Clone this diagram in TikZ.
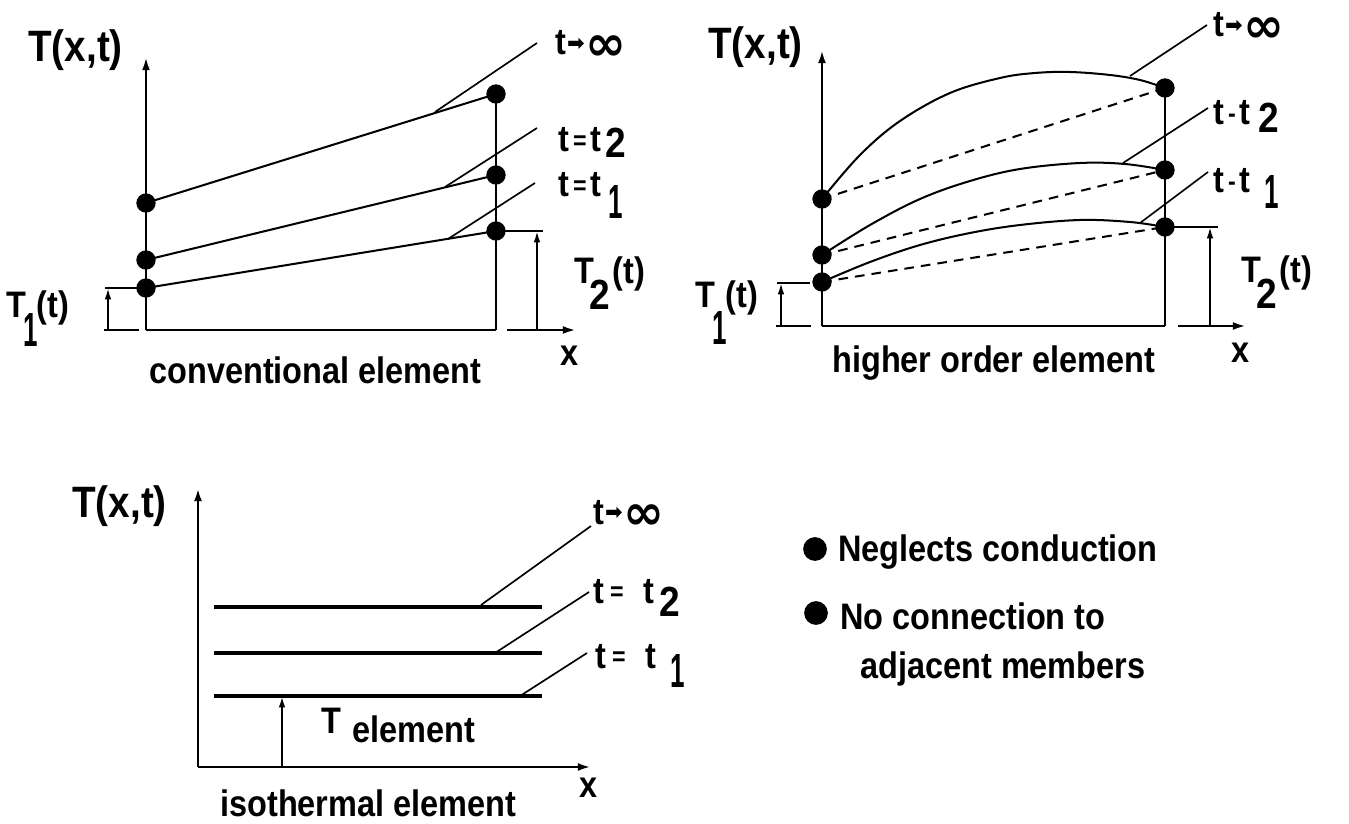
\documentclass[tikz,border=0pt]{standalone}
\usepackage{fontspec}
\setmainfont{Liberation Sans}[FakeStretch=0.88]
\newfontfamily\dejavu{DejaVu Sans}
\usetikzlibrary{arrows.meta}
\newdimen\pxu \pxu=0.5669pt
\newcommand{\lowr}[2]{\raisebox{-#1\pxu}{#2}}
\newcommand{\seq}{{\fontsize{15pt}{15pt}\selectfont\raisebox{1.5pt}{=}}}
\newcommand{\smin}{{\fontsize{15pt}{15pt}\selectfont\raisebox{1.5pt}{-}}}
\newcommand{\bigone}{\scalebox{0.8}[1.3]{1}}
\newcommand{\bigtwo}{{\fontsize{24pt}{24pt}\selectfont 2}}
\newcommand{\tinf}{t\kern1\pxu{\dejavu\fontsize{12pt}{12pt}\selectfont\raisebox{2.5pt}{➡}}\kern1\pxu{\dejavu\fontsize{28pt}{28pt}\selectfont\raisebox{-3pt}{∞}}}
\begin{document}
\begin{tikzpicture}[x=0.02cm, y=-0.02cm,
  ax/.style={line width=1.4pt, -{Latex[length=7.5pt,width=4.5pt]}},
  arr/.style={line width=1.1pt, -{Latex[length=6.5pt,width=3.8pt]}},
  ln/.style={line width=1.15pt},
  thk/.style={line width=1.4pt},
  hz/.style={line width=1.8pt},
  dsh/.style={line width=1.15pt, dash pattern=on 5.5pt off 4pt},
  ldr/.style={line width=0.95pt},
  dot/.style={circle, fill, inner sep=0pt, minimum size=11pt},
  bul/.style={circle, fill, inner sep=0pt, minimum size=13.5pt},
  lbl/.style={inner sep=0pt, anchor=base west, font=\fontsize{21pt}{25pt}\selectfont\bfseries},
  big/.style={lbl, font=\fontsize{25pt}{28pt}\selectfont\bfseries}
]
\useasboundingbox (0,0) rectangle (1349,824);

% ================= Panel 1: conventional element =================
\node[dot] (p1l3) at (146,203) {};
\node[dot] (p1l2) at (146,260) {};
\node[dot] (p1l1) at (146,288) {};
\node[dot] (p1r3) at (496,94) {};
\node[dot] (p1r2) at (496,175) {};
\node[dot] (p1r1) at (496,231) {};
\coordinate (p1o) at (146,330);
\coordinate (p1top) at (146,57);
\coordinate (p1c) at (496,330);
\coordinate (p1xa) at (507,330);
\coordinate (p1xb) at (576,330);
\draw[ax] (p1o) -- (p1top);
\draw[thk] (p1c) -- (p1r3.center);
\draw[thk] (p1o) -- (p1c);
\draw[ax] (p1xa) -- (p1xb);
\draw[ln] (p1l3.center) -- (p1r3.center);
\draw[ln] (p1l2.center) -- (p1r2.center);
\draw[ln] (p1l1.center) -- (p1r1.center);
% leaders
\coordinate (p1ia) at (537,43);  \coordinate (p1ib) at (435,112);
\coordinate (p1ua) at (537,128); \coordinate (p1ub) at (445,187);
\coordinate (p1va) at (535,183); \coordinate (p1vb) at (448,239);
\draw[ldr] (p1ia) -- (p1ib);
\draw[ldr] (p1ua) -- (p1ub);
\draw[ldr] (p1va) -- (p1vb);
% T1 marker
\coordinate (p1t1a) at (105,288); \coordinate (p1t1b) at (139,288);
\coordinate (p1t1c) at (104,330); \coordinate (p1t1d) at (139,330);
\coordinate (p1t1e) at (108,330); \coordinate (p1t1f) at (108,288);
\draw[ln] (p1t1a) -- (p1t1b);
\draw[ln] (p1t1c) -- (p1t1d);
\draw[arr] (p1t1e) -- (p1t1f);
% T2 marker
\coordinate (p1t2a) at (543,231);
\coordinate (p1t2b) at (537,330); \coordinate (p1t2c) at (537,231);
\draw[ln] (p1r1.center) -- (p1t2a);
\draw[arr] (p1t2b) -- (p1t2c);
% labels
\node[big] (p1ax) at (28,62) {T(x,t)};
\node[lbl] (p1inf) at (555,55) {\tinf};
\node[lbl] (p1tt2) at (558,152) {t\kern4\pxu\seq\kern4\pxu t\kern4\pxu\lowr{6}{\bigtwo}};
\node[lbl] (p1tt1) at (558,197) {t\kern4\pxu\seq\kern4\pxu t\kern7\pxu\lowr{22}{\bigone}};
\node[lbl] (p1T1) at (6,317) {T\kern-3\pxu\lowr{30}{\bigone}\kern-1\pxu(t)};
\node[lbl] (p1T2) at (574,283) {T\kern-5\pxu\lowr{27}{\bigtwo}\kern3\pxu(t)};
\node[lbl] (p1x) at (560,365) {x};
\node[lbl] (p1cap) at (149,383) {conventional element};

% ================= Panel 2: higher order element =================
\node[dot] (p2l3) at (822,199) {};
\node[dot] (p2l2) at (822,255) {};
\node[dot] (p2l1) at (822,282) {};
\node[dot] (p2r3) at (1165,88) {};
\node[dot] (p2r2) at (1165,170) {};
\node[dot] (p2r1) at (1165,227) {};
\coordinate (p2o) at (822,326);
\coordinate (p2top) at (822,50);
\coordinate (p2c) at (1165,326);
\coordinate (p2xa) at (1178,326);
\coordinate (p2xb) at (1246,326);
\draw[ax] (p2o) -- (p2top);
\draw[thk] (p2c) -- (p2r3.center);
\draw[thk] (p2o) -- (p2c);
\draw[ax] (p2xa) -- (p2xb);
\draw[dsh] (p2l3.center) -- (p2r3.center);
\draw[dsh] (p2l2.center) -- (p2r2.center);
\draw[dsh] (p2l1.center) -- (p2r1.center);
\draw[ln] plot[smooth, tension=0.6] coordinates {(822,199) (860,155) (900,121) (950,93) (1000,78) (1035,73) (1070,72) (1110,75) (1140,80) (1165,88)};
\draw[ln] plot[smooth, tension=0.6] coordinates {(822,255) (870,225) (920,199) (970,181) (1020,169) (1080,163) (1125,164) (1165,170)};
\draw[ln] plot[smooth, tension=0.6] coordinates {(822,282) (870,262) (920,245) (970,233) (1020,225) (1080,220) (1130,222) (1165,227)};
% leaders
\coordinate (p2ia) at (1207,25);  \coordinate (p2ib) at (1130,76);
\coordinate (p2ua) at (1208,108); \coordinate (p2ub) at (1123,163);
\coordinate (p2va) at (1208,172); \coordinate (p2vb) at (1140,223);
\draw[ldr] (p2ia) -- (p2ib);
\draw[ldr] (p2ua) -- (p2ub);
\draw[ldr] (p2va) -- (p2vb);
% T1 marker
\coordinate (p2t1a) at (777,283); \coordinate (p2t1b) at (810,283);
\coordinate (p2t1c) at (776,326); \coordinate (p2t1d) at (811,326);
\coordinate (p2t1e) at (781,326); \coordinate (p2t1f) at (781,283);
\draw[ln] (p2t1a) -- (p2t1b);
\draw[ln] (p2t1c) -- (p2t1d);
\draw[arr] (p2t1e) -- (p2t1f);
% T2 marker
\coordinate (p2t2a) at (1218,227);
\coordinate (p2t2b) at (1210,326); \coordinate (p2t2c) at (1210,227);
\draw[ln] (p2r1.center) -- (p2t2a);
\draw[arr] (p2t2b) -- (p2t2c);
% labels
\node[big] (p2ax) at (708,59) {T(x,t)};
\node[lbl] (p2inf) at (1213,37) {\tinf};
\node[lbl] (p2tt2) at (1213,125) {t\kern4\pxu\smin\kern4\pxu t\kern8\pxu\lowr{8}{\bigtwo}};
\node[lbl] (p2tt1) at (1213,193) {t\kern4\pxu\smin\kern4\pxu t\kern14\pxu\lowr{16}{\bigone}};
\node[lbl] (p2T1) at (695,307) {T\kern-3\pxu\lowr{38}{\bigone}\kern-1\pxu(t)};
\node[lbl] (p2T2) at (1241,282) {T\kern-5\pxu\lowr{27}{\bigtwo}\kern3\pxu(t)};
\node[lbl] (p2x) at (1231,362) {x};
\node[lbl] (p2cap) at (832,372) {higher order element};

% ================= Panel 3: isothermal element =================
\coordinate (p3o) at (198,767);
\coordinate (p3top) at (198,488);
\coordinate (p3x) at (591,767);
\draw[ax, line width=1.7pt] (p3o) -- (p3top);
\draw[ax, line width=1.7pt] (p3o) -- (p3x);
\coordinate (p3h3a) at (214,607); \coordinate (p3h3b) at (542,607);
\coordinate (p3h2a) at (214,653); \coordinate (p3h2b) at (542,653);
\coordinate (p3h1a) at (214,696); \coordinate (p3h1b) at (542,696);
\draw[hz] (p3h3a) -- (p3h3b);
\draw[hz] (p3h2a) -- (p3h2b);
\draw[hz] (p3h1a) -- (p3h1b);
\coordinate (p3ea) at (282,767); \coordinate (p3eb) at (282,696);
\draw[arr, line width=1.4pt] (p3ea) -- (p3eb);
\coordinate (p3ia) at (591,526); \coordinate (p3ib) at (481,605);
\coordinate (p3ua) at (589,592); \coordinate (p3ub) at (495,653);
\coordinate (p3va) at (587,653); \coordinate (p3vb) at (520,696);
\draw[ldr] (p3ia) -- (p3ib);
\draw[ldr] (p3ua) -- (p3ub);
\draw[ldr] (p3va) -- (p3vb);
\node[big] (p3ax) at (72,517) {T(x,t)};
\node[lbl] (p3inf) at (593,524) {\tinf};
\node[lbl] (p3tt2) at (593,603) {t\kern6\pxu\seq\kern20\pxu t\kern5\pxu\lowr{14}{\bigtwo}};
\node[lbl] (p3tt1) at (595,668) {t\kern6\pxu\seq\kern20\pxu t\kern14\pxu\lowr{20}{\bigone}};
\node[lbl] (p3Te) at (321,733) {T\kern11\pxu\lowr{10}{element}};
\node[lbl] (p3xl) at (579,797) {x};
\node[lbl] (p3cap) at (220,816) {isothermal element};

% ================= Legend =================
\node[bul] (b1) at (815,549) {};
\node[bul] (b2) at (816,613) {};
\node[lbl] (lg1) at (838,561) {Neglects conduction};
\node[lbl] (lg2) at (840,629) {No connection to};
\node[lbl] (lg3) at (860,678) {adjacent members};
\end{tikzpicture}
\end{document}
